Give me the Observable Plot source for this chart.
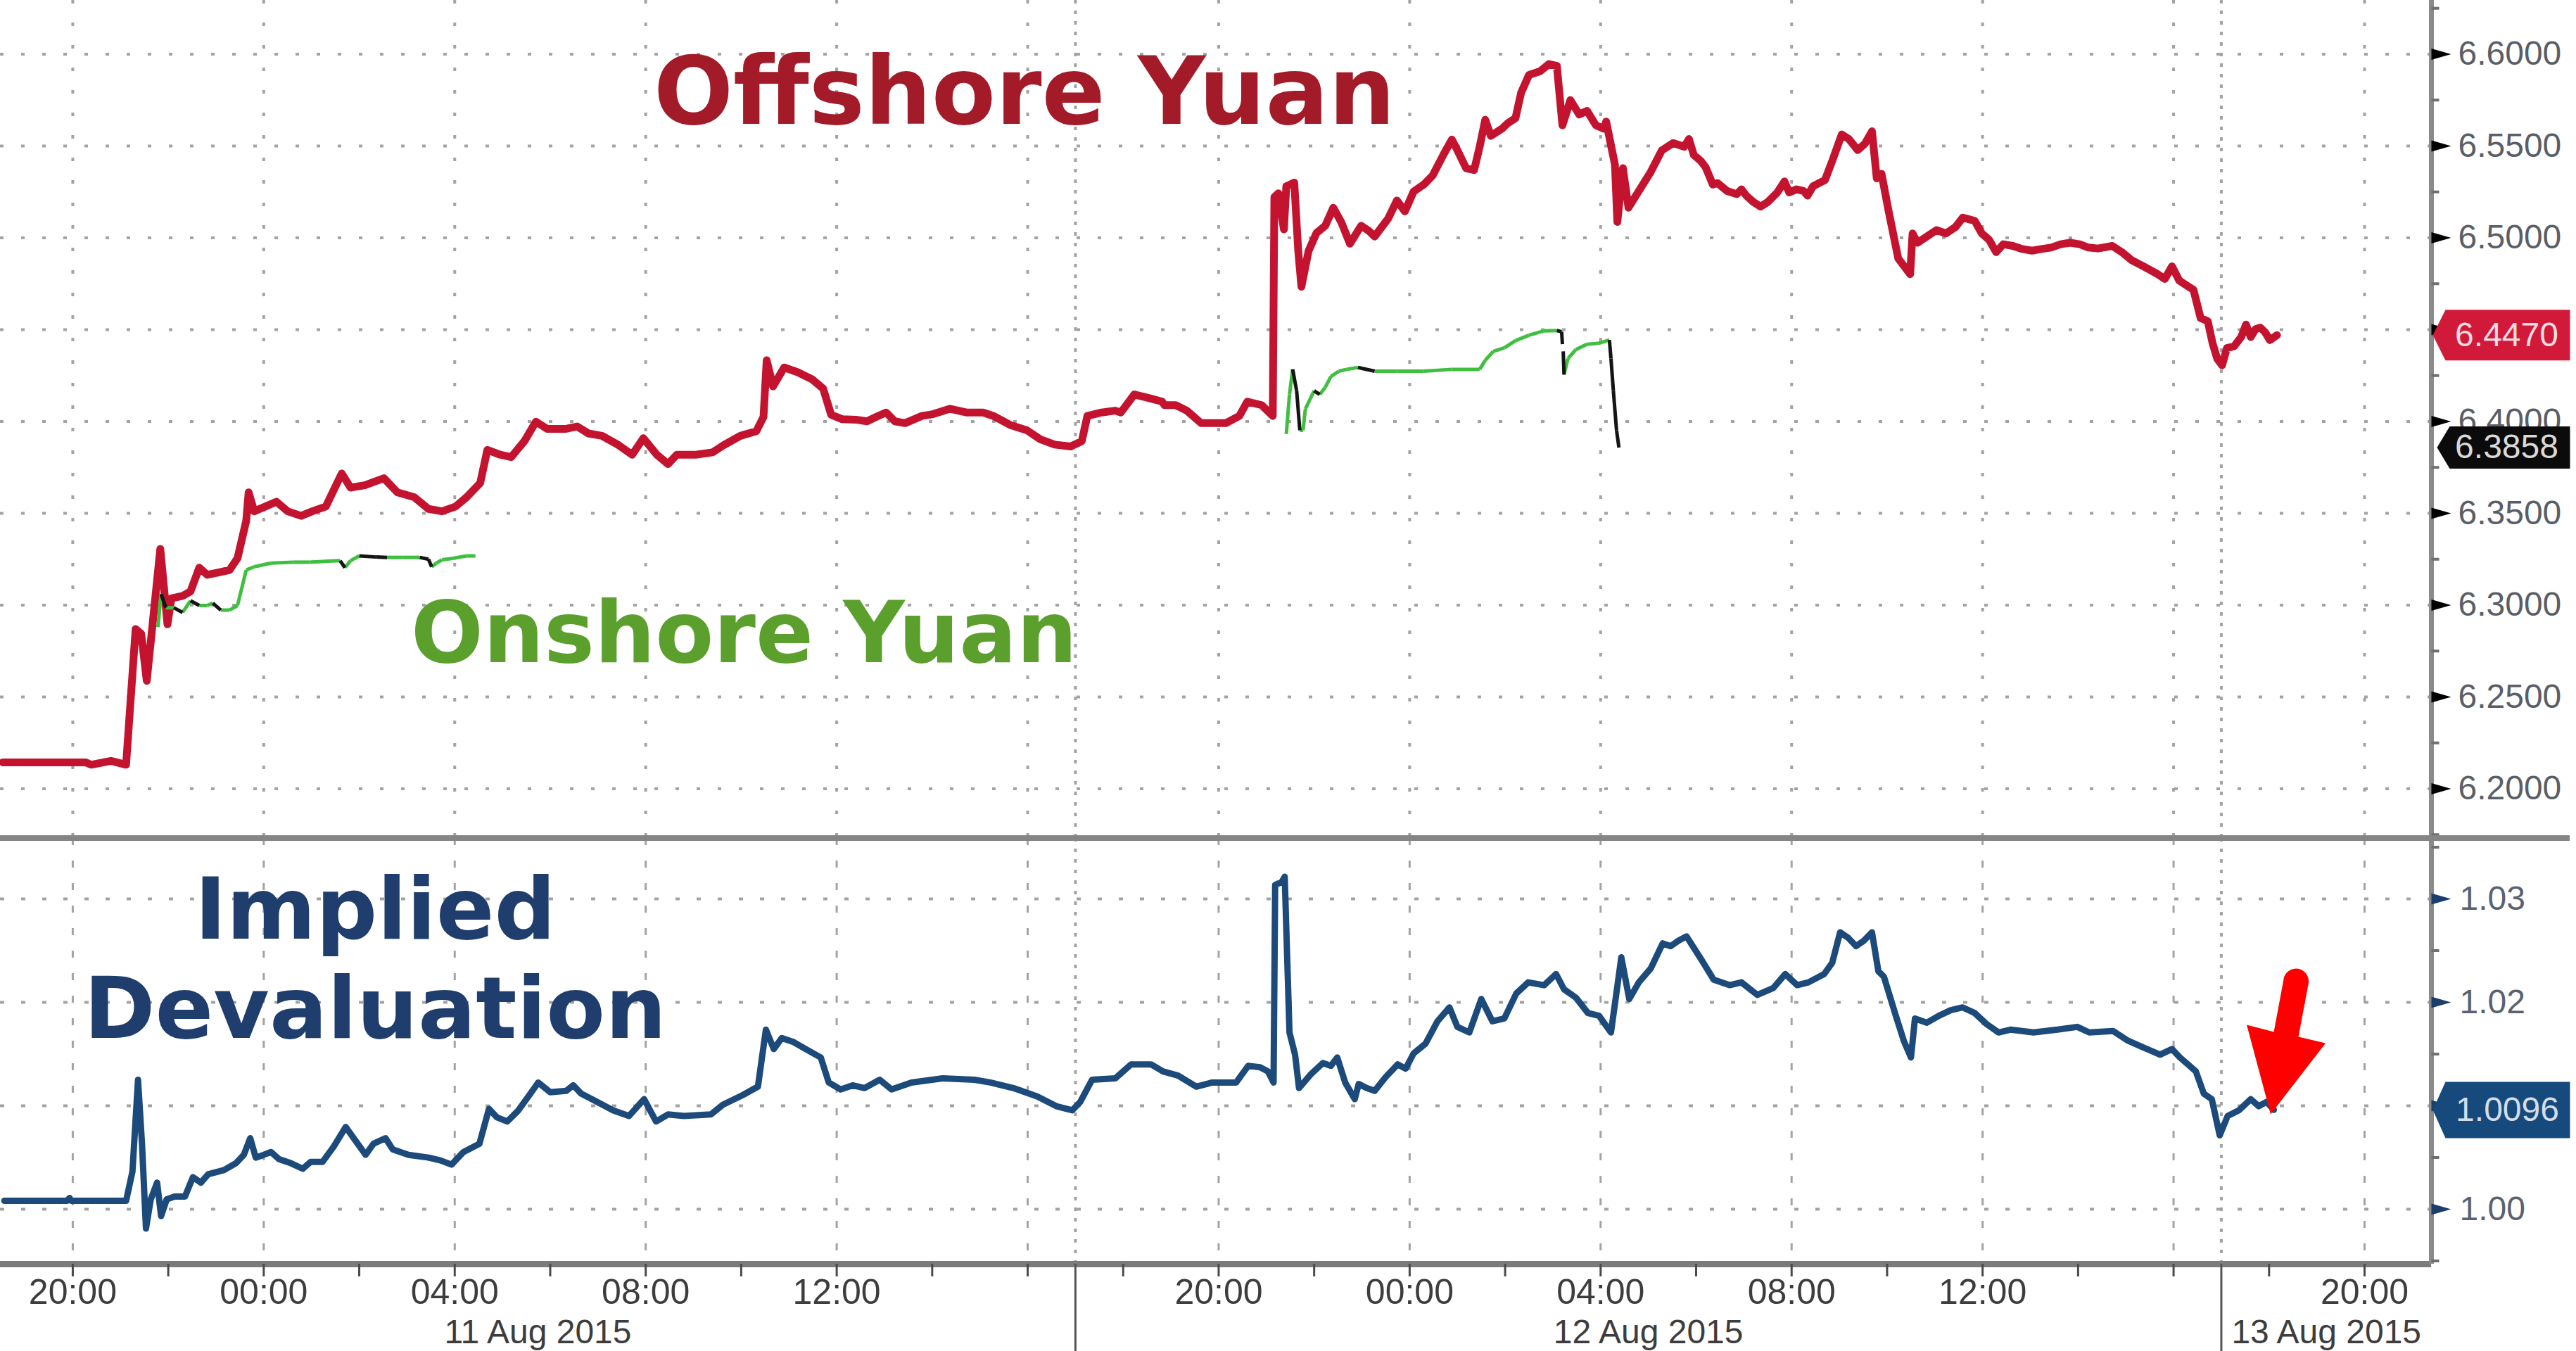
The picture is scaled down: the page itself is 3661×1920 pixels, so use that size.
<!DOCTYPE html>
<html>
<head>
<meta charset="utf-8">
<script src="https://cdn.jsdelivr.net/npm/d3@7"></script>
<script src="https://cdn.jsdelivr.net/npm/@observablehq/plot@0.6"></script>
<style>
html, body { margin: 0; padding: 0; background: #fff; }
#chart { position: relative; width: 3661px; height: 1920px; background: #fff; overflow: hidden; }
#top { position: absolute; left: 0; top: 0; }
#bottom { position: absolute; left: 0; top: 1191px; }
#divider { position: absolute; left: 0; top: 1187px; width: 3652px; height: 8px; background: #858585; }
</style>
</head>
<body>
<div id="chart"><div id="top"></div><div id="bottom"></div><div id="divider"></div></div>
<script>
// ---------- DATA ----------
// Offshore yuan (CNH) [time "MM-DD HH:MM" 2015, value]
const offshoreData = [
["08-10 18:32",6.2144],["08-10 20:16",6.2144],["08-10 20:23",6.2131],["08-10 20:48",6.2152],["08-10 21:07",6.2131],
["08-10 21:19",6.2870],["08-10 21:26",6.2844],["08-10 21:33",6.2588],["08-10 21:50",6.3306],["08-10 21:59",6.2896],
["08-10 22:04",6.3037],["08-10 22:18",6.3050],["08-10 22:28",6.3075],["08-10 22:39",6.3204],["08-10 22:49",6.3165],
["08-10 23:03",6.3178],["08-10 23:17",6.3191],["08-10 23:27",6.3255],["08-10 23:38",6.3460],["08-10 23:41",6.3614],
["08-10 23:48",6.3511],["08-11 00:02",6.3537],["08-11 00:16",6.3563],["08-11 00:30",6.3511],["08-11 00:47",6.3486],
["08-11 01:01",6.3511],["08-11 01:18",6.3537],["08-11 01:38",6.3717],["08-11 01:49",6.3640],["08-11 02:07",6.3653],
["08-11 02:31",6.3691],["08-11 02:48",6.3614],["08-11 03:09",6.3588],["08-11 03:27",6.3524],["08-11 03:44",6.3511],
["08-11 04:01",6.3537],["08-11 04:15",6.3588],["08-11 04:32",6.3665],["08-11 04:41",6.3845],["08-11 04:57",6.3819],
["08-11 05:11",6.3806],["08-11 05:28",6.3896],["08-11 05:42",6.3999],["08-11 05:56",6.3960],["08-11 06:20",6.3960],
["08-11 06:34",6.3973],["08-11 06:48",6.3935],["08-11 07:05",6.3922],["08-11 07:26",6.3871],["08-11 07:43",6.3819],
["08-11 07:57",6.3909],["08-11 08:14",6.3819],["08-11 08:28",6.3768],["08-11 08:39",6.3819],["08-11 09:03",6.3819],
["08-11 09:24",6.3832],["08-11 09:38",6.3871],["08-11 09:59",6.3922],["08-11 10:19",6.3947],["08-11 10:28",6.4025],
["08-11 10:32",6.4333],["08-11 10:40",6.4191],["08-11 10:54",6.4294],["08-11 11:11",6.4268],["08-11 11:29",6.4230],
["08-11 11:43",6.4179],["08-11 11:53",6.4037],["08-11 12:07",6.4012],["08-11 12:24",6.4010],["08-11 12:38",6.4001],
["08-11 12:52",6.4030],["08-11 13:02",6.4049],["08-11 13:13",6.4001],["08-11 13:26",6.3991],["08-11 13:47",6.4030],
["08-11 14:01",6.4040],["08-11 14:22",6.4069],["08-11 14:43",6.4049],["08-11 15:04",6.4049],["08-11 15:17",6.4030],
["08-11 15:38",6.3981],["08-11 15:59",6.3952],["08-11 16:16",6.3903],["08-11 16:34",6.3874],["08-11 16:54",6.3864],
["08-11 17:08",6.3893],["08-11 17:15",6.4030],["08-11 17:33",6.4049],["08-11 17:50",6.4059],["08-11 17:57",6.4049],
["08-11 18:14",6.4147],["08-11 18:32",6.4128],["08-11 18:49",6.4108],["08-11 18:52",6.4089],["08-11 19:06",6.4089],
["08-11 19:20",6.4059],["08-11 19:38",6.3991],["08-11 19:51",6.3991],["08-11 20:09",6.3991],["08-11 20:26",6.4030],
["08-11 20:36",6.4108],["08-11 20:54",6.4089],["08-11 21:08",6.4030],["08-11 21:10",6.5222],["08-11 21:15",6.5242],
["08-11 21:22",6.5046],["08-11 21:25",6.5281],["08-11 21:35",6.5301],["08-11 21:40",6.4929],["08-11 21:44",6.4734],
["08-11 21:53",6.4929],["08-11 22:03",6.5027],["08-11 22:14",6.5066],["08-11 22:24",6.5164],["08-11 22:34",6.5086],
["08-11 22:45",6.4968],["08-11 22:59",6.5066],["08-11 23:09",6.5037],["08-11 23:16",6.5007],["08-11 23:33",6.5105],
["08-11 23:44",6.5203],["08-11 23:54",6.5144],["08-12 00:05",6.5252],["08-12 00:18",6.5291],["08-12 00:29",6.5340],
["08-12 00:43",6.5457],["08-12 00:53",6.5535],["08-12 01:00",6.5477],["08-12 01:11",6.5379],["08-12 01:21",6.5369],
["08-12 01:28",6.5496],["08-12 01:35",6.5643],["08-12 01:42",6.5555],["08-12 01:56",6.5594],["08-12 02:03",6.5623],
["08-12 02:13",6.5652],["08-12 02:20",6.5789],["08-12 02:30",6.5887],["08-12 02:44",6.5907],["08-12 02:55",6.5946],
["08-12 03:05",6.5936],["08-12 03:12",6.5613],["08-12 03:22",6.5750],["08-12 03:33",6.5672],["08-12 03:43",6.5691],
["08-12 03:54",6.5613],["08-12 04:04",6.5594],["08-12 04:07",6.5633],["08-12 04:18",6.5398],["08-12 04:21",6.5086],
["08-12 04:28",6.5379],["08-12 04:35",6.5164],["08-12 04:49",6.5262],["08-12 05:03",6.5359],["08-12 05:17",6.5477],
["08-12 05:31",6.5516],["08-12 05:45",6.5496],["08-12 05:51",6.5538],["08-12 05:57",6.5452],["08-12 06:06",6.5418],
["08-12 06:12",6.5384],["08-12 06:21",6.5290],["08-12 06:27",6.5298],["08-12 06:39",6.5255],["08-12 06:51",6.5238],
["08-12 06:57",6.5264],["08-12 07:03",6.5230],["08-12 07:12",6.5195],["08-12 07:21",6.5170],["08-12 07:30",6.5195],
["08-12 07:42",6.5247],["08-12 07:51",6.5307],["08-12 07:57",6.5247],["08-12 08:06",6.5264],["08-12 08:15",6.5255],
["08-12 08:20",6.5230],["08-12 08:27",6.5281],["08-12 08:42",6.5315],["08-12 08:51",6.5418],["08-12 09:03",6.5563],
["08-12 09:12",6.5538],["08-12 09:23",6.5478],["08-12 09:32",6.5512],["08-12 09:41",6.5580],["08-12 09:47",6.5324],
["08-12 09:53",6.5349],["08-12 10:02",6.5144],["08-12 10:14",6.4888],["08-12 10:23",6.4836],["08-12 10:29",6.4802],
["08-12 10:32",6.5024],["08-12 10:38",6.4973],["08-12 10:50",6.5007],["08-12 11:02",6.5042],["08-12 11:14",6.5024],
["08-12 11:26",6.5059],["08-12 11:35",6.5110],["08-12 11:50",6.5093],["08-12 11:59",6.5024],["08-12 12:08",6.4990],
["08-12 12:17",6.4922],["08-12 12:26",6.4965],["08-12 12:38",6.4956],["08-12 12:50",6.4939],["08-12 13:02",6.4930],
["08-12 13:14",6.4939],["08-12 13:26",6.4947],["08-12 13:38",6.4965],["08-12 13:50",6.4973],["08-12 14:02",6.4965],
["08-12 14:13",6.4947],["08-12 14:25",6.4942],["08-12 14:43",6.4956],["08-12 14:55",6.4922],["08-12 15:07",6.4879],
["08-12 15:22",6.4845],["08-12 15:40",6.4802],["08-12 15:49",6.4776],["08-12 15:58",6.4845],["08-12 16:07",6.4768],
["08-12 16:16",6.4742],["08-12 16:25",6.4717],["08-12 16:34",6.4563],["08-12 16:43",6.4546],["08-12 16:49",6.4426],
["08-12 16:55",6.4340],["08-12 17:01",6.4306],["08-12 17:07",6.4400],["08-12 17:16",6.4409],["08-12 17:25",6.4460],
["08-12 17:31",6.4528],["08-12 17:37",6.4460],["08-12 17:43",6.4503],["08-12 17:49",6.4511],["08-12 17:55",6.4486],
["08-12 18:01",6.4443],["08-12 18:10",6.4470]
];

// Onshore yuan (CNY) [time, value, trading session piece]
const onshoreData = [
["08-10 21:47",6.2880,1],["08-10 21:51",6.3060,1],["08-10 21:57",6.2986,1],["08-10 22:07",6.2986,1],["08-10 22:18",6.2960,1],
["08-10 22:28",6.3024,1],["08-10 22:39",6.2998,1],["08-10 22:49",6.2998,1],["08-10 22:56",6.3011,1],["08-10 23:06",6.2973,1],
["08-10 23:17",6.2973,1],["08-10 23:27",6.2998,1],["08-10 23:38",6.3191,1],["08-10 23:48",6.3209,1],["08-11 00:09",6.3229,1],
["08-11 00:37",6.3234,1],["08-11 00:57",6.3234,1],["08-11 01:25",6.3240,1],["08-11 01:36",6.3242,1],["08-11 01:42",6.3204,1],
["08-11 01:49",6.3242,1],["08-11 02:00",6.3268,1],["08-11 02:21",6.3262,1],["08-11 02:35",6.3260,1],["08-11 02:55",6.3260,1],
["08-11 03:16",6.3260,1],["08-11 03:27",6.3250,1],["08-11 03:31",6.3209,1],["08-11 03:37",6.3229,1],["08-11 03:44",6.3247,1],
["08-11 03:58",6.3255,1],["08-11 04:15",6.3268,1],["08-11 04:26",6.3268,1],
["08-11 21:25",6.3932,2],["08-11 21:29",6.4147,2],["08-11 21:33",6.4284,2],["08-11 21:38",6.4167,2],["08-11 21:42",6.3952,2],
["08-11 21:46",6.3952,2],["08-11 21:49",6.4069,2],["08-11 22:00",6.4167,2],["08-11 22:07",6.4147,2],["08-11 22:14",6.4186,2],
["08-11 22:21",6.4245,2],["08-11 22:31",6.4274,2],["08-11 22:41",6.4284,2],["08-11 22:55",6.4294,2],["08-11 23:16",6.4274,2],
["08-11 23:44",6.4274,2],["08-12 00:18",6.4274,2],["08-12 00:53",6.4284,2],["08-12 01:28",6.4284,2],["08-12 01:35",6.4333,2],
["08-12 01:45",6.4382,2],["08-12 01:59",6.4401,2],["08-12 02:13",6.4440,2],["08-12 02:30",6.4470,2],["08-12 02:48",6.4493,2],
["08-12 03:05",6.4495,2],["08-12 03:11",6.4489,2],["08-12 03:12",6.4421,2],
["08-12 03:13",6.4382,3],["08-12 03:14",6.4255,3],["08-12 03:19",6.4343,3],["08-12 03:29",6.4392,3],["08-12 03:43",6.4421,3],
["08-12 03:57",6.4425,3],["08-12 04:11",6.4444,3],["08-12 04:13",6.4343,3],["08-12 04:16",6.4167,3],["08-12 04:20",6.3952,3],
["08-12 04:23",6.3858,3]
];

// Implied devaluation [time, value]
const impliedData = [
["08-10 18:34",1.00082],["08-10 19:53",1.00082],["08-10 19:56",1.00109],["08-10 19:58",1.00082],["08-10 21:07",1.00082],
["08-10 21:15",1.00364],["08-10 21:22",1.01252],["08-10 21:27",1.00633],["08-10 21:32",0.99813],["08-10 21:38",1.00095],
["08-10 21:46",1.00257],["08-10 21:51",0.99934],["08-10 21:58",1.00095],["08-10 22:08",1.00122],["08-10 22:21",1.00122],
["08-10 22:31",1.00310],["08-10 22:41",1.00257],["08-10 22:50",1.00337],["08-10 23:10",1.00378],["08-10 23:25",1.00445],
["08-10 23:35",1.00526],["08-10 23:43",1.00687],["08-10 23:50",1.00499],["08-11 00:00",1.00526],["08-11 00:09",1.00553],
["08-11 00:19",1.00485],["08-11 00:34",1.00445],["08-11 00:49",1.00391],["08-11 00:59",1.00458],["08-11 01:14",1.00458],
["08-11 01:28",1.00606],["08-11 01:43",1.00795],["08-11 01:58",1.00633],["08-11 02:08",1.00526],["08-11 02:18",1.00633],
["08-11 02:33",1.00687],["08-11 02:42",1.00579],["08-11 03:02",1.00526],["08-11 03:27",1.00499],["08-11 03:42",1.00472],
["08-11 03:56",1.00431],["08-11 04:11",1.00553],["08-11 04:31",1.00633],["08-11 04:43",1.00970],["08-11 04:53",1.00889],
["08-11 05:06",1.00848],["08-11 05:20",1.00956],["08-11 05:35",1.01117],["08-11 05:45",1.01225],["08-11 06:00",1.01131],
["08-11 06:20",1.01144],["08-11 06:29",1.01198],["08-11 06:39",1.01117],["08-11 06:59",1.01037],["08-11 07:19",1.00956],
["08-11 07:39",1.00902],["08-11 07:58",1.01064],["08-11 08:13",1.00848],["08-11 08:28",1.00916],["08-11 08:48",1.00902],
["08-11 09:22",1.00916],["08-11 09:37",1.01010],["08-11 10:02",1.01104],["08-11 10:21",1.01185],["08-11 10:31",1.01736],
["08-11 10:41",1.01548],["08-11 10:51",1.01655],["08-11 11:06",1.01615],["08-11 11:21",1.01548],["08-11 11:40",1.01467],
["08-11 11:50",1.01225],["08-11 12:05",1.01158],["08-11 12:20",1.01198],["08-11 12:35",1.01171],["08-11 12:54",1.01252],
["08-11 13:09",1.01158],["08-11 13:34",1.01225],["08-11 14:13",1.01265],["08-11 14:53",1.01252],["08-11 15:13",1.01225],
["08-11 15:42",1.01171],["08-11 16:12",1.01090],["08-11 16:36",1.00996],["08-11 16:56",1.00956],["08-11 17:06",1.01037],
["08-11 17:21",1.01252],["08-11 17:50",1.01265],["08-11 18:10",1.01400],["08-11 18:35",1.01400],["08-11 18:50",1.01333],
["08-11 19:09",1.01292],["08-11 19:32",1.01185],["08-11 19:52",1.01225],["08-11 20:22",1.01225],["08-11 20:37",1.01386],
["08-11 20:52",1.01373],["08-11 21:02",1.01332],["08-11 21:09",1.01225],["08-11 21:11",1.03135],["08-11 21:19",1.03162],
["08-11 21:23",1.03215],["08-11 21:29",1.01709],["08-11 21:36",1.01494],["08-11 21:41",1.01171],["08-11 21:56",1.01306],
["08-11 22:11",1.01413],["08-11 22:21",1.01386],["08-11 22:29",1.01467],["08-11 22:39",1.01225],["08-11 22:51",1.01064],
["08-11 22:56",1.01211],["08-11 23:06",1.01171],["08-11 23:16",1.01144],["08-11 23:30",1.01279],["08-11 23:45",1.01400],
["08-11 23:55",1.01359],["08-12 00:05",1.01507],["08-12 00:20",1.01601],["08-12 00:35",1.01817],["08-12 00:50",1.01951],
["08-12 01:00",1.01763],["08-12 01:15",1.01709],["08-12 01:30",1.02032],["08-12 01:44",1.01817],["08-12 01:59",1.01844],
["08-12 02:14",1.02086],["08-12 02:29",1.02193],["08-12 02:49",1.02166],["08-12 03:04",1.02274],["08-12 03:14",1.02126],
["08-12 03:29",1.02045],["08-12 03:44",1.01897],["08-12 03:58",1.01870],["08-12 04:13",1.01709],["08-12 04:26",1.02435],
["08-12 04:36",1.02032],["08-12 04:48",1.02193],["08-12 05:03",1.02328],["08-12 05:18",1.02570],["08-12 05:28",1.02543],
["08-12 05:38",1.02597],["08-12 05:48",1.02637],["08-12 06:07",1.02408],["08-12 06:22",1.02220],["08-12 06:42",1.02166],
["08-12 06:57",1.02193],["08-12 07:17",1.02072],["08-12 07:37",1.02139],["08-12 07:52",1.02274],["08-12 08:07",1.02166],
["08-12 08:21",1.02193],["08-12 08:41",1.02274],["08-12 08:51",1.02382],["08-12 09:01",1.02677],["08-12 09:11",1.02624],
["08-12 09:21",1.02543],["08-12 09:31",1.02597],["08-12 09:41",1.02677],["08-12 09:49",1.02301],["08-12 09:56",1.02247],
["08-12 10:11",1.01870],["08-12 10:21",1.01628],["08-12 10:30",1.01467],["08-12 10:35",1.01844],["08-12 10:50",1.01803],
["08-12 11:05",1.01870],["08-12 11:20",1.01924],["08-12 11:35",1.01951],["08-12 11:50",1.01897],["08-12 12:05",1.01790],
["08-12 12:20",1.01709],["08-12 12:35",1.01736],["08-12 13:04",1.01709],["08-12 13:34",1.01736],["08-12 13:59",1.01763],
["08-12 14:14",1.01709],["08-12 14:44",1.01723],["08-12 15:03",1.01628],["08-12 15:23",1.01561],["08-12 15:43",1.01494],
["08-12 15:58",1.01548],["08-12 16:08",1.01467],["08-12 16:18",1.01400],["08-12 16:28",1.01332],["08-12 16:38",1.01117],
["08-12 16:48",1.01064],["08-12 16:58",1.00714],["08-12 17:08",1.00902],["08-12 17:22",1.00956],["08-12 17:37",1.01064],
["08-12 17:47",1.00996],["08-12 17:57",1.01037],["08-12 18:06",1.00960]
];

// Axis ticks and labels
const topTicks = [6.20, 6.25, 6.30, 6.35, 6.40, 6.45, 6.50, 6.55, 6.60];
const topTickLabels = ["6.2000","6.2500","6.3000","6.3500","6.4000","6.4500","6.5000","6.5500","6.6000"];
const topMinorTicks = [6.175, 6.225, 6.275, 6.325, 6.375, 6.425, 6.475, 6.525, 6.575, 6.625];
const bottomTicks = [1.00, 1.01, 1.02, 1.03];
const bottomTickLabels = ["1.00","1.01","1.02","1.03"];
const bottomMinorTicks = [0.995, 1.005, 1.015, 1.025, 1.035];
const gridTimes = ["08-10 20:00","08-11 00:00","08-11 04:00","08-11 08:00","08-11 12:00","08-11 16:00",
                   "08-11 20:00","08-12 00:00","08-12 04:00","08-12 08:00","08-12 12:00","08-12 16:00","08-12 20:00"];
const sessionBreaks = ["08-11 17:00","08-12 17:00"];
const timeLabelTimes = ["08-10 20:00","08-11 00:00","08-11 04:00","08-11 08:00","08-11 12:00",
                        "08-11 20:00","08-12 00:00","08-12 04:00","08-12 08:00","08-12 12:00","08-12 20:00"];
const timeLabels = ["20:00","00:00","04:00","08:00","12:00","20:00","00:00","04:00","08:00","12:00","20:00"];
const dayLabels = ["11 Aug 2015","12 Aug 2015","13 Aug 2015"];
const viewRange = ["08-10 18:29","08-12 21:24"];

// ---------- BUILD ----------
const parseT = d3.utcParse("%Y-%m-%d %H:%M");
const T = s => parseT("2015-" + s);
const offshore = offshoreData.map(([t, v]) => ({t: T(t), v}));
const onshore = onshoreData.map(([t, v, s]) => ({t: T(t), v, s}));
const implied = impliedData.map(([t, v]) => ({t: T(t), v}));
const onPairs = d3.pairs(onshore).filter(([a, b]) => a.s === b.s)
  .map(([a, b]) => ({t1: a.t, v1: a.v, t2: b.t, v2: b.v, down: b.v < a.v}));

const xDomain = viewRange.map(T);
const xEnd = xDomain[1];
const grid = gridTimes.map(T);
const breaks = sessionBreaks.map(T);
const tickTimes = d3.utcHour.every(2).range(xDomain[0], xDomain[1]);
const timeLabelData = timeLabelTimes.map((t, i) => ({t: T(t), label: timeLabels[i]}));
const bounds = [xDomain[0], ...breaks, xDomain[1]];
const dayLabelData = dayLabels.map((label, i) => ({t: new Date((+bounds[i] + +bounds[i + 1]) / 2), label}));

const W = 3661, MR = 206, TOP_H = 1191, BOT_H = 729, BOT_MB = 124;
const BOT_PLOT = BOT_H - BOT_MB;
const TOP_Y = [6.17299, 6.62931], BOT_Y = [0.994694, 1.035850];
const fmt4 = d3.format(".4f");
const labelFont = "Liberation Sans, Arial, sans-serif";
const titleFont = "DejaVu Sans, Verdana, sans-serif";

const lastOff = offshore[offshore.length - 1];
const lastOn = onshore[onshore.length - 1];
const lastImp = implied[implied.length - 1];

// tick labels fully hidden behind a last-value tag in the reference are not drawn
const topPx = TOP_H / (TOP_Y[1] - TOP_Y[0]);
const botPx = BOT_PLOT / (BOT_Y[1] - BOT_Y[0]);
const topLabelData = topTicks.map((v, i) => ({v, label: topTickLabels[i]}))
  .filter(d => Math.abs(d.v - lastOff.v) * topPx > 30);
const botLabelData = bottomTicks.map((v, i) => ({v, label: bottomTickLabels[i]}))
  .filter(d => Math.abs(d.v - lastImp.v) * botPx > 30);

const triTick = {draw(c) { c.moveTo(0, -8); c.lineTo(28, 0); c.lineTo(0, 8); c.closePath(); }};
const minorTick = {draw(c) { c.moveTo(0, -2); c.lineTo(11, -2); c.lineTo(11, 2); c.lineTo(0, 2); c.closePath(); }};
function tag(h, tip) {
  return {draw(c) {
    c.moveTo(tip, 0); c.lineTo(tip + 18, -h / 2); c.lineTo(197, -h / 2);
    c.lineTo(197, h / 2); c.lineTo(tip + 18, h / 2); c.closePath();
  }};
}
const arrowShape = {draw(c) {
  c.moveTo(0, 0);
  c.lineTo(-34, -127);
  c.lineTo(4.5, -117);
  c.lineTo(18.5, -192);
  c.arc(36, -189, 18, Math.atan2(-3.4, -17.7), Math.atan2(3.4, 17.7), false);
  c.lineTo(39.5, -110);
  c.lineTo(78, -101);
  c.closePath();
}};

const dotGrid = {stroke: "#a3a3a3", strokeWidth: 4, strokeDasharray: "5,25"};

const topPlot = Plot.plot({
  width: W, height: TOP_H,
  marginTop: 0, marginBottom: 0, marginLeft: 0, marginRight: MR,
  x: {type: "utc", domain: xDomain, axis: null},
  y: {domain: TOP_Y, axis: null},
  style: {fontFamily: labelFont, background: "transparent", overflow: "visible"},
  marks: [
    Plot.ruleY(topTicks, dotGrid),
    Plot.ruleX(grid, {stroke: "#a3a3a3", strokeWidth: 4, strokeDasharray: "5,27"}),
    Plot.ruleX(breaks, {stroke: "#a3a3a3", strokeWidth: 4, strokeDasharray: "5,10"}),
    Plot.line(offshore, {x: "t", y: "v", stroke: "#c4132f", strokeWidth: 11, strokeLinejoin: "round"}),
    Plot.link(onPairs.filter(d => !d.down), {x1: "t1", y1: "v1", x2: "t2", y2: "v2", stroke: "#3fbf3f", strokeWidth: 5}),
    Plot.link(onPairs.filter(d => d.down), {x1: "t1", y1: "v1", x2: "t2", y2: "v2", stroke: "#141414", strokeWidth: 5}),
    Plot.text(["Offshore Yuan"], {x: () => T("08-11 08:10"), y: () => 6.5782, text: d => d, textAnchor: "start",
      fontSize: 133, fontWeight: "bold", fontFamily: titleFont, fill: "#a31b28"}),
    Plot.text(["Onshore Yuan"], {x: () => T("08-11 03:05"), y: () => 6.2839, text: d => d, textAnchor: "start",
      fontSize: 121, fontWeight: "bold", fontFamily: titleFont, fill: "#5b9f2c"}),
    Plot.ruleX([xEnd], {stroke: "#8a8a8a", strokeWidth: 7}),
    Plot.dot(topMinorTicks, {x: () => xEnd, y: d => d, symbol: minorTick, fill: "#6f6f6f", stroke: "none"}),
    Plot.dot(topTicks, {x: () => xEnd, y: d => d, symbol: triTick, fill: "#000", stroke: "none"}),
    Plot.text(topLabelData, {x: () => xEnd, y: "v", text: "label", dx: 38, textAnchor: "start",
      fontSize: 48, fill: "#5a5e66"}),
    Plot.dot([lastOff], {x: () => xEnd, y: "v", symbol: tag(72, 2), fill: "#d11a39", stroke: "none"}),
    Plot.text([lastOff], {x: () => xEnd, y: "v", text: d => fmt4(d.v), dx: 107, fontSize: 48, fill: "#f7dde2"}),
    Plot.dot([lastOn], {x: () => xEnd, y: "v", symbol: tag(60, 8), fill: "#0b0b0b", stroke: "none"}),
    Plot.text([lastOn], {x: () => xEnd, y: "v", text: d => fmt4(d.v), dx: 107, fontSize: 48, fill: "#d9d9d9"})
  ]
});
document.getElementById("top").appendChild(topPlot);

const bottomPlot = Plot.plot({
  width: W, height: BOT_H,
  marginTop: 0, marginBottom: BOT_MB, marginLeft: 0, marginRight: MR,
  x: {type: "utc", domain: xDomain, axis: null},
  y: {domain: BOT_Y, axis: null},
  style: {fontFamily: labelFont, background: "transparent", overflow: "visible"},
  marks: [
    Plot.ruleY(bottomTicks, {stroke: "#a3a3a3", strokeWidth: 4, strokeDasharray: "6,24"}),
    Plot.ruleX(grid, {stroke: "#a3a3a3", strokeWidth: 3, strokeDasharray: "10,22"}),
    Plot.ruleX(breaks, {stroke: "#a3a3a3", strokeWidth: 4, strokeDasharray: "5,10"}),
    Plot.line(implied, {x: "t", y: "v", stroke: "#1c4a7b", strokeWidth: 9, strokeLinejoin: "round"}),
    Plot.text(["Implied\nDevaluation"], {x: () => T("08-11 02:20"), y: () => 1.024456, text: d => d, textAnchor: "middle",
      lineHeight: 1.16, fontSize: 122, fontWeight: "bold", fontFamily: titleFont, fill: "#1f3e6d"}),
    Plot.dot([lastImp], {x: () => T("08-12 18:02"), y: () => 1.00918, symbol: arrowShape, fill: "#ff0000", stroke: "none"}),
    Plot.ruleY([BOT_Y[0]], {stroke: "#7b7b7b", strokeWidth: 9}),
    Plot.ruleX([xEnd], {stroke: "#8a8a8a", strokeWidth: 7}),
    Plot.ruleX(tickTimes, {stroke: "#4a4a4a", strokeWidth: 3, insetTop: BOT_PLOT, insetBottom: -18}),
    Plot.ruleX(breaks, {stroke: "#555", strokeWidth: 3, insetTop: BOT_PLOT, insetBottom: -BOT_MB}),
    Plot.text(timeLabelData, {x: "t", text: "label", frameAnchor: "bottom", lineAnchor: "middle", dy: 40,
      fontSize: 50, fill: "#3d3d3d"}),
    Plot.text(dayLabelData, {x: "t", text: "label", frameAnchor: "bottom", lineAnchor: "middle", dy: 97,
      fontSize: 48, fill: "#3d3d3d"}),
    Plot.dot(bottomMinorTicks, {x: () => xEnd, y: d => d, symbol: minorTick, fill: "#6f6f6f", stroke: "none"}),
    Plot.dot(bottomTicks, {x: () => xEnd, y: d => d, symbol: triTick, fill: "#1b3f6d", stroke: "none"}),
    Plot.text(botLabelData, {x: () => xEnd, y: "v", text: "label", dx: 40, textAnchor: "start",
      fontSize: 48, fill: "#5a6270"}),
    Plot.dot([lastImp], {x: () => xEnd, y: "v", symbol: tag(80, 2), fill: "#174a7c", stroke: "none"}),
    Plot.text([lastImp], {x: () => xEnd, y: "v", text: d => fmt4(d.v), dx: 108, fontSize: 48, fill: "#d5dde8"})
  ]
});
document.getElementById("bottom").appendChild(bottomPlot);
</script>
</body>
</html>
